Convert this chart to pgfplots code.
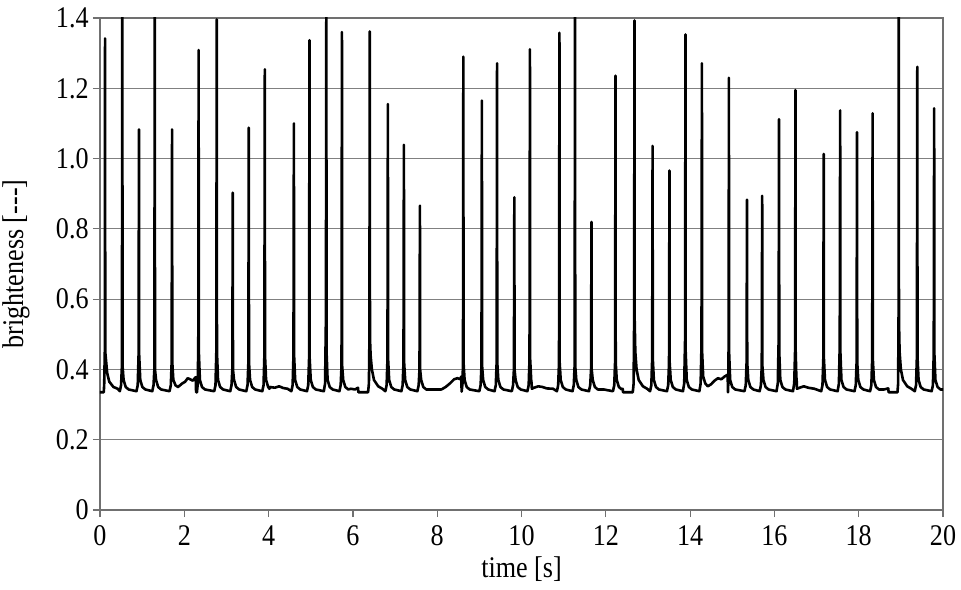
\documentclass[border=0pt]{standalone}
\usepackage{fontspec}
\setmainfont{Liberation Serif}
\newfontfamily\chartfont{Liberation Serif}[FakeStretch=0.87]
\usepackage{pgfplots}
\pgfplotsset{compat=1.18}

\pgfplotstableread{
t y
0 0.335
0.09 0.335
0.10 0.36
0.114 0.45
0.12 1.342
0.125 0.45
0.14 0.43
0.17 0.39
0.22 0.365
0.32 0.35
0.42 0.345
0.47 0.338
0.50 0.355
0.52 0.41
0.53 1.5
0.535 0.41
0.56 0.37
0.61 0.35
0.68 0.343
0.865 0.338
0.895 0.355
0.915 0.44
0.925 1.083
0.93 0.44
0.955 0.37
1.005 0.35
1.075 0.343
1.24 0.338
1.27 0.355
1.29 0.40
1.30 1.5
1.305 0.40
1.33 0.37
1.38 0.35
1.45 0.343
1.65 0.338
1.68 0.355
1.70 0.42
1.71 1.083
1.715 0.42
1.74 0.37
1.79 0.355
1.85 0.35
1.95 0.36
2.02 0.365
2.08 0.375
2.14 0.372
2.20 0.368
2.27 0.378
2.28 0.335
2.30 0.335
2.32 0.36
2.332 0.48
2.34 1.309
2.345 0.45
2.37 0.37
2.42 0.35
2.49 0.343
2.71 0.338
2.74 0.355
2.76 0.45
2.77 1.396
2.775 0.45
2.80 0.37
2.85 0.35
2.92 0.343
3.09 0.338
3.12 0.355
3.14 0.40
3.15 0.903
3.155 0.40
3.18 0.37
3.23 0.35
3.30 0.343
3.47 0.338
3.50 0.355
3.52 0.42
3.53 1.088
3.535 0.42
3.56 0.37
3.61 0.35
3.68 0.343
3.85 0.338
3.88 0.355
3.90 0.44
3.91 1.254
3.915 0.44
3.94 0.37
3.99 0.35
4.02 0.345
4.03 0.35
4.15 0.348
4.25 0.352
4.35 0.347
4.45 0.345
4.54 0.338
4.57 0.355
4.59 0.44
4.60 1.10
4.605 0.44
4.63 0.37
4.68 0.35
4.75 0.343
4.91 0.338
4.94 0.355
4.96 0.43
4.97 1.337
4.975 0.43
5.00 0.37
5.05 0.35
5.12 0.343
5.31 0.338
5.34 0.36
5.36 0.55
5.37 1.5
5.375 0.45
5.40 0.37
5.45 0.35
5.52 0.343
5.68 0.338
5.71 0.355
5.73 0.41
5.74 1.360
5.745 0.41
5.77 0.37
5.82 0.35
5.89 0.343
5.95 0.345
6.05 0.343
6.12 0.348
6.13 0.335
6.36 0.335
6.38 0.36
6.392 0.49
6.40 1.362
6.405 0.49
6.42 0.44
6.45 0.40
6.50 0.37
6.60 0.352
6.70 0.345
6.77 0.338
6.80 0.355
6.82 0.43
6.83 1.155
6.835 0.43
6.86 0.37
6.91 0.35
6.98 0.343
7.15 0.338
7.18 0.355
7.20 0.42
7.21 1.039
7.215 0.42
7.24 0.37
7.29 0.35
7.36 0.343
7.53 0.338
7.56 0.355
7.58 0.40
7.59 0.866
7.595 0.40
7.62 0.37
7.67 0.35
7.74 0.343
7.90 0.343
8.10 0.343
8.20 0.35
8.30 0.36
8.40 0.372
8.48 0.375
8.55 0.372
8.57 0.38
8.58 0.337
8.60 0.36
8.612 0.42
8.62 1.290
8.625 0.42
8.65 0.37
8.70 0.35
8.77 0.343
9.00 0.338
9.03 0.355
9.05 0.41
9.06 1.165
9.065 0.41
9.09 0.37
9.14 0.35
9.21 0.343
9.36 0.338
9.39 0.355
9.41 0.42
9.42 1.271
9.425 0.42
9.45 0.37
9.50 0.35
9.57 0.343
9.77 0.338
9.80 0.355
9.82 0.40
9.83 0.890
9.835 0.40
9.86 0.37
9.91 0.35
9.98 0.343
10.14 0.338
10.17 0.355
10.19 0.43
10.20 1.311
10.205 0.43
10.23 0.37
10.24 0.36
10.245 0.345
10.30 0.348
10.40 0.352
10.50 0.35
10.60 0.346
10.75 0.345
10.84 0.338
10.87 0.355
10.89 0.42
10.90 1.358
10.905 0.42
10.93 0.37
10.98 0.35
11.05 0.343
11.21 0.338
11.24 0.355
11.26 0.41
11.27 1.5
11.275 0.41
11.30 0.37
11.35 0.35
11.42 0.343
11.60 0.338
11.63 0.355
11.65 0.40
11.66 0.820
11.665 0.40
11.69 0.37
11.74 0.35
11.81 0.343
11.95 0.343
12.17 0.338
12.20 0.355
12.22 0.42
12.23 1.236
12.235 0.42
12.26 0.37
12.31 0.35
12.38 0.343
12.40 0.345
12.41 0.335
12.64 0.335
12.66 0.36
12.672 0.54
12.68 1.393
12.685 0.54
12.70 0.45
12.73 0.40
12.78 0.37
12.88 0.352
12.98 0.345
13.05 0.338
13.08 0.355
13.10 0.43
13.11 1.036
13.115 0.43
13.14 0.37
13.19 0.35
13.26 0.343
13.45 0.338
13.48 0.355
13.50 0.42
13.51 0.966
13.515 0.42
13.54 0.37
13.59 0.35
13.66 0.343
13.83 0.338
13.86 0.36
13.88 0.48
13.89 1.353
13.895 0.45
13.92 0.37
13.97 0.35
14.04 0.343
14.22 0.338
14.25 0.36
14.27 0.47
14.28 1.271
14.285 0.45
14.31 0.38
14.36 0.36
14.42 0.352
14.50 0.358
14.58 0.368
14.66 0.375
14.74 0.372
14.82 0.38
14.89 0.385
14.90 0.335
14.905 0.36
14.915 0.49
14.92 1.230
14.925 0.45
14.95 0.37
15.00 0.35
15.07 0.343
15.29 0.338
15.32 0.355
15.34 0.42
15.35 0.883
15.355 0.42
15.38 0.37
15.43 0.35
15.50 0.343
15.65 0.338
15.68 0.355
15.70 0.41
15.71 0.894
15.715 0.41
15.74 0.37
15.79 0.35
15.86 0.343
16.05 0.338
16.08 0.36
16.10 0.48
16.11 1.112
16.115 0.45
16.14 0.37
16.19 0.35
16.26 0.343
16.44 0.338
16.47 0.36
16.49 0.45
16.50 1.195
16.505 0.45
16.52 0.38
16.53 0.365
16.535 0.345
16.60 0.348
16.70 0.352
16.80 0.348
16.95 0.345
17.11 0.338
17.14 0.355
17.16 0.43
17.17 1.013
17.175 0.43
17.20 0.37
17.25 0.35
17.32 0.343
17.50 0.338
17.53 0.36
17.55 0.47
17.56 1.137
17.565 0.45
17.59 0.37
17.64 0.35
17.71 0.343
17.90 0.338
17.93 0.355
17.95 0.42
17.96 1.075
17.965 0.42
17.99 0.37
18.04 0.35
18.11 0.343
18.27 0.338
18.30 0.355
18.32 0.43
18.33 1.129
18.335 0.43
18.36 0.37
18.41 0.35
18.48 0.343
18.60 0.343
18.70 0.346
18.71 0.335
18.92 0.335
18.935 0.36
18.945 0.54
18.95 1.5
18.955 0.54
18.97 0.45
19.00 0.40
19.05 0.37
19.15 0.352
19.25 0.345
19.33 0.338
19.36 0.355
19.38 0.435
19.39 1.261
19.395 0.435
19.42 0.37
19.47 0.35
19.54 0.343
19.73 0.338
19.76 0.355
19.78 0.445
19.79 1.143
19.795 0.445
19.82 0.37
19.87 0.35
19.94 0.343
20 0.343
}\brightness

\definecolor{axisgray}{HTML}{707070}
\definecolor{gridgray}{HTML}{808080}

\begin{document}
\begin{tikzpicture}
\begin{axis}[
    scale only axis,
    width=421.5pt, height=246pt,
    xmin=0, xmax=20, ymin=0, ymax=1.4,
    xtick={0,2,...,20},
    ytick={0,0.2,0.4,0.6,0.8,1.0,1.2,1.4},
    yticklabels={0,0.2,0.4,0.6,0.8,1.0,1.2,1.4},
    ymajorgrids,
    grid style={gridgray, line width=0.5pt},
    axis line style={axisgray, line width=0.6pt},
    tick style={axisgray, line width=0.6pt},
    tick align=outside,
    major tick length=3.5pt,
    xtick pos=bottom, ytick pos=left,
    /pgf/number format/assume math mode=true,
    tick label style={font=\chartfont\fontsize{15}{17}\selectfont},
    yticklabel style={inner sep=2pt},
    xticklabel style={inner sep=2pt, yshift=-2pt},
    xlabel={time [s]},
    ylabel={brighteness [{-}{-}{-}]},
    label style={font=\chartfont\fontsize{15}{17}\selectfont},
    xlabel style={at={(axis description cs:0.5,0)}, anchor=north, inner sep=0pt, yshift=-23pt},
    ylabel style={at={(axis description cs:0,0.5)}, anchor=center, inner sep=0pt, yshift=42pt},
]
\addplot[black, line width=1.3pt, line join=round, mark=none] table[x=t, y=y] {\brightness};
\end{axis}
\pgfresetboundingbox
\path ([xshift=-50pt, yshift=-39.5pt]current axis.south west) rectangle ([xshift=9pt, yshift=9pt]current axis.north east);
\end{tikzpicture}
\end{document}
